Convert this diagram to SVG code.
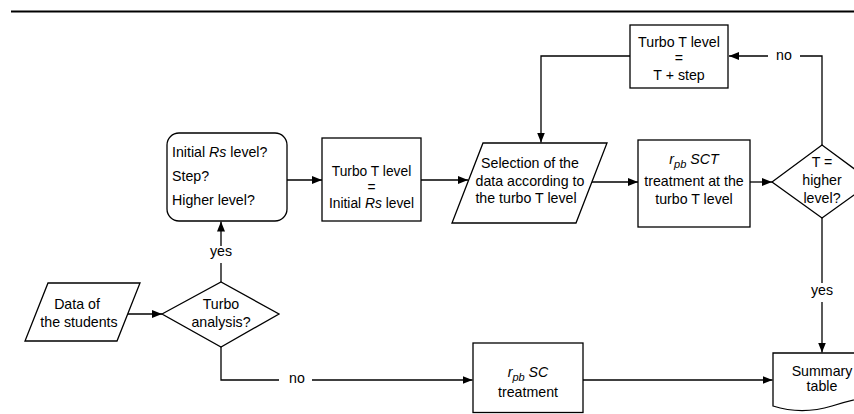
<svg xmlns="http://www.w3.org/2000/svg" width="854" height="414" viewBox="0 0 854 414">
  <style>
    .shape { fill: #fff; stroke: #000; stroke-width: 1.3; }
    .wire { fill: none; stroke: #000; stroke-width: 1.3; }
    .arrow { marker-end: url(#head); }
    text { font-family: "Liberation Sans", Arial, sans-serif; font-size: 14.2px; fill: #000; }
    .c { text-anchor: middle; }
    .it { font-style: italic; }
    .sub { font-size: 11px; font-style: italic; }
    .tight { font-size: 13.8px; }
  </style>
  <defs>
    <marker id="head" viewBox="0 0 10 8" refX="10" refY="4" markerWidth="10" markerHeight="8" markerUnits="userSpaceOnUse" orient="auto">
      <path d="M0,0 L10,4 L0,8 Z" fill="#000"/>
    </marker>
  </defs>

  <rect width="854" height="414" fill="#fff"/>
  <!-- header rule -->
  <line x1="11" y1="11.5" x2="854" y2="11.5" stroke="#000" stroke-width="2.2"/>

  <g id="connectors">
    <path class="wire arrow" d="M128,314 H162"/>
    <path class="wire" d="M221,282 V263"/>
    <path class="wire arrow" d="M221,246 V221.5"/>
    <path class="wire arrow" d="M287,180 H322"/>
    <path class="wire arrow" d="M421,180 H468"/>
    <path class="wire arrow" d="M592,182 H638"/>
    <path class="wire arrow" d="M750,182 H772"/>
    <path class="wire" d="M822,145 V56 H800"/>
    <path class="wire arrow" d="M768,56 H729"/>
    <path class="wire arrow" d="M630,56 H541 V142.5"/>
    <path class="wire" d="M822,218 V283"/>
    <path class="wire arrow" d="M822,302 V352.5"/>
    <path class="wire" d="M221,347 V380 H279"/>
    <path class="wire arrow" d="M312,380 H472.5"/>
    <path class="wire arrow" d="M583,380 H772.5"/>
    <text class="c" x="221" y="256">yes</text>
    <text class="c" x="822" y="295">yes</text>
    <text class="c" x="297" y="383">no</text>
    <text class="c" x="784" y="60">no</text>
  </g>

  <g id="data-students">
    <polygon class="shape" points="48,283 140,283 117,341 25,341"/>
    <text class="c" x="77" y="309">Data of</text>
    <text class="c" x="79" y="327">the students</text>
  </g>

  <g id="turbo-analysis">
    <polygon class="shape" points="162,314 221,282 279,314 221,347"/>
    <text class="c" x="221" y="309">Turbo</text>
    <text class="c" x="221" y="327">analysis?</text>
  </g>

  <g id="parameters">
    <rect class="shape" x="167" y="133" width="120" height="88" rx="12" ry="12"/>
    <text x="172" y="157">Initial <tspan class="it">Rs</tspan> level?</text>
    <text x="172" y="181">Step?</text>
    <text x="172" y="205">Higher level?</text>
  </g>

  <g id="turbo-init">
    <rect class="shape" x="322" y="138" width="99" height="83"/>
    <text class="c tight" x="371.5" y="176">Turbo T level</text>
    <text class="c tight" x="371.5" y="192">=</text>
    <text class="c tight" x="371.5" y="208">Initial <tspan class="it">Rs</tspan> level</text>
  </g>

  <g id="selection">
    <polygon class="shape" points="483,143 607,143 576,223 452,223"/>
    <text class="c" x="530" y="168">Selection of the</text>
    <text class="c" x="530" y="186">data according to</text>
    <text class="c" x="526" y="203">the turbo T level</text>
  </g>

  <g id="sct-treatment">
    <rect class="shape" x="638" y="140" width="112" height="87"/>
    <text class="c" x="694" y="164"><tspan class="it">r</tspan><tspan class="sub" dy="4">pb</tspan><tspan class="it" dy="-4"> SCT</tspan></text>
    <text class="c" x="694" y="186">treatment at the</text>
    <text class="c" x="694" y="204">turbo T level</text>
  </g>

  <g id="higher-level">
    <polygon class="shape" points="772,182 822,145 872,182 822,218"/>
    <text class="c" x="822" y="167">T =</text>
    <text class="c" x="822" y="185">higher</text>
    <text class="c" x="822" y="203">level?</text>
  </g>

  <g id="turbo-step">
    <rect class="shape" x="630" y="25" width="98" height="63"/>
    <text class="c" x="679" y="47">Turbo T level</text>
    <text class="c" x="679" y="63">=</text>
    <text class="c" x="679" y="80">T + step</text>
  </g>

  <g id="sc-treatment">
    <rect class="shape" x="473" y="343" width="110" height="69.5"/>
    <text class="c" x="528" y="377"><tspan class="it">r</tspan><tspan class="sub" dy="4">pb</tspan><tspan class="it" dy="-4"> SC</tspan></text>
    <text class="c" x="528" y="397">treatment</text>
  </g>

  <g id="summary">
    <path class="shape" d="M773,353 H871 V397 C860,398 848,401 832,406 C812,412 792,412 773,406 Z"/>
    <text class="c" x="822" y="376">Summary</text>
    <text class="c" x="822" y="391">table</text>
  </g>
</svg>
